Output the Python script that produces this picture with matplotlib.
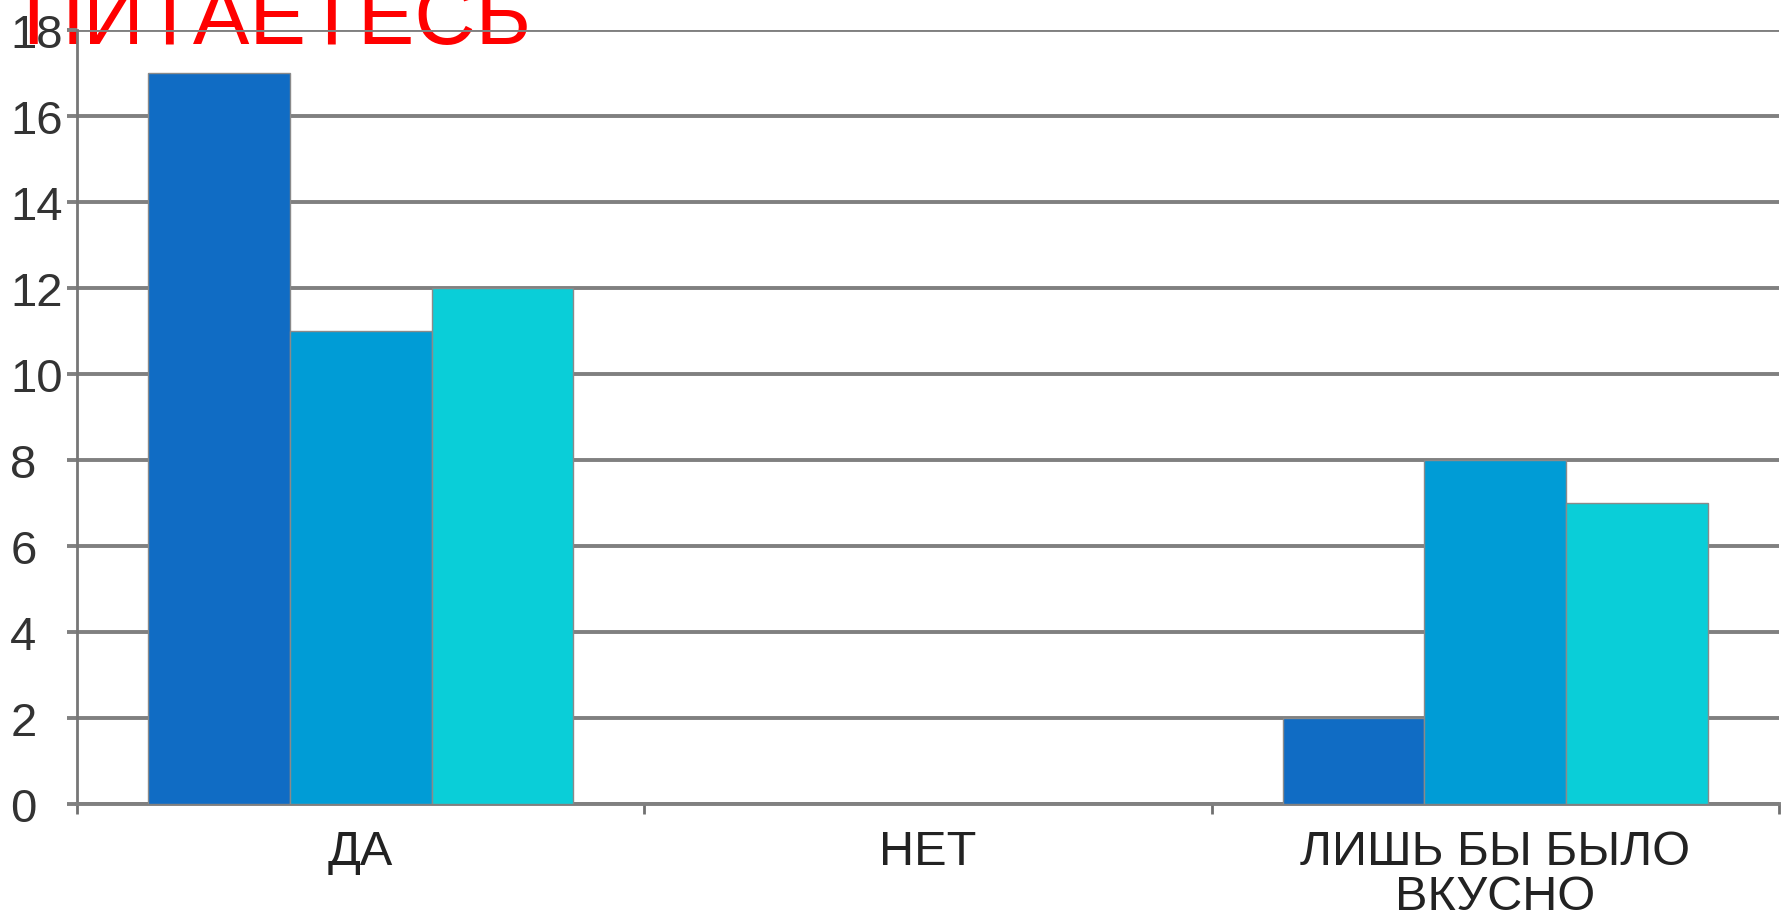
import numpy as np
import matplotlib.pyplot as plt

plt.rcParams['font.family'] = ['Liberation Sans', 'DejaVu Sans']

# answers per category, three survey groups
categories = ['ДА', 'НЕТ', 'ЛИШЬ БЫ БЫЛО\nВКУСНО']
series_1 = [17, 0, 2]
series_2 = [11, 0, 8]
series_3 = [12, 0, 7]
y_ticks = [0, 2, 4, 6, 8, 10, 12, 14, 16, 18]
title = 'ПИТАЕТЕСЬ'

colors = ['#106CC4', '#009CD6', '#0ACED8']

fig = plt.figure(figsize=(17.83, 9.2), dpi=100)
fig.patch.set_facecolor('white')
ax = fig.add_axes([0.0432, 0.125, 0.9545, 0.8416])
ax.patch.set_visible(False)

x = np.arange(len(categories))
width = 0.25
for i, (vals, c) in enumerate(zip([series_1, series_2, series_3], colors)):
    ax.bar(x + (i - 1) * width, vals, width, color=c, edgecolor='#8a8a8a',
           linewidth=1.0, zorder=3)

ax.set_xlim(-0.5, len(categories) - 0.5)
ax.set_ylim(0, 18)
ax.set_yticks(y_ticks)
ax.yaxis.grid(True, color='#808080', linewidth=2.8, zorder=1)
ax.set_axisbelow(True)

# category labels sit between the boundary ticks
ax.set_xticks(np.arange(len(categories) + 1) - 0.5)
ax.set_xticklabels([])
ax.set_xticks(x, minor=True)
ax.set_xticklabels(categories, minor=True, fontsize=35, color='#222222',
                   linespacing=1.0)
ax.tick_params(axis='x', which='minor', length=0, pad=18)
ax.tick_params(axis='x', which='major', length=7, width=2, color='#707070',
               direction='out')
ax.tick_params(axis='y', length=7, width=2.8, color='#808080', pad=41,
               labelsize=34, labelcolor='#333333')
for lbl in ax.get_yticklabels():
    lbl.set_horizontalalignment('left')

for side in ['top', 'right']:
    ax.spines[side].set_visible(False)
ax.spines['left'].set_color('#777777')
ax.spines['left'].set_linewidth(2)
ax.spines['bottom'].set_color('#808080')
ax.spines['bottom'].set_linewidth(2.8)

# heading sits underneath the chart, partly hidden by the axis labels
fig.text(531 / 1783, 1 - 44 / 920, title, color='#FF0000', fontsize=61,
         ha='right', va='baseline', zorder=-1)

fig.savefig('out.png', dpi=100, facecolor='white')
